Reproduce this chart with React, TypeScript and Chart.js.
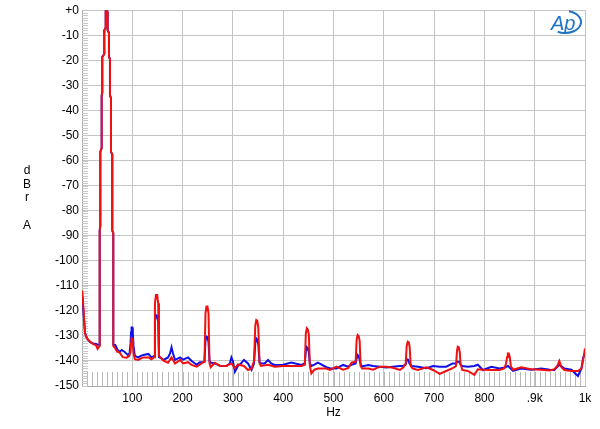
import React, { useEffect, useRef } from 'react';
import { Chart, registerables } from 'chart.js';

Chart.register(...registerables);

const FONT = '"Liberation Sans", Arial, sans-serif';

// Fundamental (50 Hz) peak shape, shared by both traces: [Hz, dBr A]
const fundamental: [number, number][] = [
  [35.2, -88], [36.4, -86], [36.4, -56.6], [39.1, -55], [39.1, -34], [40.3, -33], [40.3, -18.6],
  [44.3, -17.5], [44.3, -8], [47.1, -7], [47.1, 0], [49.7, 0], [51, -0.8], [51, -8], [53.6, -9],
  [53.6, -18.6], [55.6, -19.5], [55.6, -34], [57.6, -35], [57.6, -56.6], [60.2, -57.5], [60.2, -88],
  [62.2, -89],
];

// Red trace: [Hz, dBr A]
const redLow: [number, number][] = [
  [0.5, -112], [2.6, -118], [6, -129], [10, -131], [16, -132.3], [22, -133.2], [28, -133.8],
  [31, -135.2], [33, -134.6], [35.2, -134],
];
const redHigh: [number, number][] = [
  [62.2, -134], [66, -135], [70, -136.3], [75, -136.7], [81, -138.5], [89, -138.7], [94, -138],
  [96.5, -136.5], [97.5, -133], [98.5, -131], [100, -131], [101, -133.5], [102.5, -137],
  [105, -139.3], [112, -139.6], [117, -139], [122, -138.6], [132, -138.6], [138, -139.3],
  [143.5, -138.5], [145, -117], [147, -113.7], [149.5, -113.7], [151.5, -117], [153, -138],
  [158, -139], [162, -139.9], [171, -140.7], [178, -138.6], [185, -141], [195, -139.6], [201, -141],
  [211, -140.5], [218, -141.6], [228, -142.3], [234, -141.5], [241, -140.5],
  [243.5, -140.3], [245.5, -121], [247.5, -118.3], [249.5, -118.3], [251.5, -121], [253.5, -141],
  [256, -142.5], [264, -140.7], [274, -141.9], [287, -142], [297, -141], [304, -142.9], [310, -141.4],
  [322, -142], [330, -143.6], [337, -143],
  [342, -140], [344.5, -126], [346.5, -123.7], [348.5, -124], [350.5, -126.5], [353, -141],
  [356, -142], [370, -141.5], [383, -142.3], [400, -142], [416, -142], [436, -142],
  [443, -141.5], [445, -129], [447, -127], [449, -127.5], [451, -129.5], [453, -142],
  [456, -145], [462, -143.5], [469, -143], [486, -143], [493, -143.6], [506, -142.3], [519, -143.5],
  [529, -142.9], [536, -140.7], [542, -140.3],
  [544, -140.3], [546, -131.5], [548, -129.6], [550, -130], [552, -132], [554, -142],
  [557, -143], [569, -143], [579, -143.5], [592, -142.3], [605, -142.3], [618, -142.7], [632, -143.6],
  [639, -142.5],
  [643.5, -141], [645.5, -134], [647.5, -132.3], [649.5, -132.5], [651.5, -134.5], [653.5, -142],
  [657, -143], [668, -143.6], [685, -142.5], [698, -143.6], [711, -145.2], [724, -144], [737, -142.9],
  [743.5, -142], [745.5, -136], [747, -134.3], [749, -134.5], [751, -136.5], [752.5, -141],
  [756, -143.6], [767, -144], [780, -145.6], [787, -143.3], [797, -143.5], [814, -143.6], [830, -143.6],
  [840, -142.9],
  [843, -141], [845, -138.5], [846.5, -137], [848.5, -137], [850.5, -138.5], [852.5, -142],
  [857, -143.5], [873, -142.5], [893, -143.3], [913, -143.5], [930, -143.8], [939, -143.3], [945, -142],
  [949, -140], [953, -142.5], [959, -143.6], [973, -144], [986, -144], [993, -143], [996, -140],
  [1000, -135],
];

// Blue trace: [Hz, dBr A]
const blueLow: [number, number][] = [
  [0.5, -114], [2.6, -120], [6, -129], [10, -131], [16, -132.5], [22, -133], [28, -133.2],
  [31, -133.5], [33, -133.5], [35.2, -133.5],
];
const blueHigh: [number, number][] = [
  [62.2, -133.5], [66, -133.6], [71, -135.6], [75, -136.3], [79, -135.6], [85, -136.4], [91, -137.6],
  [94.5, -137],
  [96.5, -133], [97.5, -128.5], [98.5, -126.6], [100, -126.6], [101, -129], [102.5, -134],
  [105, -138], [112, -138.6], [117, -138], [122, -137.6], [132, -137.2], [138, -138.6],
  [143.5, -138], [145, -124], [147, -121.7], [149.5, -122], [151.5, -124.5], [153, -138.5],
  [158, -139], [162, -139.6], [171, -138.6], [175, -137], [178, -134.5], [181, -137],
  [185, -139.6], [195, -138.6], [201, -139.5], [211, -138.6], [218, -140], [228, -141.5], [234, -140.5],
  [241, -140.5],
  [243.5, -140.3], [245.5, -132], [247.5, -130.3], [249.5, -130.5], [251.5, -132.5], [253.5, -140],
  [256, -140.7], [264, -141], [274, -141.9], [287, -142], [294, -141], [297, -138.6], [300, -140],
  [304, -144.3], [310, -142], [316, -141], [322, -139.6], [330, -141], [337, -143.6],
  [342, -141], [344.5, -133], [346.5, -131], [348.5, -131.5], [350.5, -133.5], [353, -140.5],
  [356, -141], [363, -141], [370, -139.6], [376, -141], [383, -141.6], [400, -141.5], [416, -140.6],
  [436, -141.6],
  [443, -141], [445, -136], [447, -134.5], [449, -135], [451, -136.5], [453, -141],
  [456, -142], [462, -141.5], [469, -140.7], [486, -142.5], [493, -142.9], [506, -143], [519, -141.6],
  [529, -142.3], [536, -141.5],
  [544, -141], [546, -139], [548, -137.6], [550, -138], [552, -139.5], [554, -141.5],
  [557, -142.2], [569, -141.6], [579, -142], [592, -142.3], [605, -142.6], [618, -142.3], [632, -142],
  [639, -142],
  [643.5, -141.5], [646, -139.3], [648.5, -139.5], [651, -141], [655, -142], [668, -142.3],
  [685, -142.9], [698, -142], [711, -142.3], [724, -142.3], [737, -141],
  [743.5, -141], [746, -140.3], [750, -140.3], [752.5, -141.5],
  [756, -142], [767, -142.3], [780, -142], [787, -141.5], [797, -143.6],
  [814, -142.3], [830, -143], [840, -142.6], [847, -142], [857, -144], [873, -143], [893, -143.5],
  [913, -143], [930, -143.5], [939, -143.6], [949, -141.5], [959, -143], [973, -143.5], [986, -146],
  [993, -143], [996, -139], [1000, -137],
];

const yTitleLetters = ['d', 'B', 'r', '', 'A'];
const xTitle = 'Hz';

const toPoints = (...parts: [number, number][][]) =>
  parts.flat().map(([x, y]) => ({ x, y }));

const decorPlugin = {
  id: 'decor',
  beforeDatasetsDraw(chart: any) {
    const { ctx, chartArea, scales } = chart;
    const xs = scales.x;
    const ys = scales.y;
    ctx.save();
    ctx.lineWidth = 1;
    ctx.strokeStyle = '#c8c8c8';
    ctx.beginPath();
    for (let v = -150; v <= 0; v += 1) {
      const y = Math.round(ys.getPixelForValue(v)) + 0.5;
      ctx.moveTo(chartArea.left, y);
      ctx.lineTo(chartArea.left + 6, y);
    }
    ctx.stroke();
    ctx.strokeStyle = '#b8b8b8';
    ctx.beginPath();
    for (let v = 10; v < 1000; v += 10) {
      const x = Math.round(xs.getPixelForValue(v)) + 0.5;
      ctx.moveTo(x, chartArea.bottom);
      ctx.lineTo(x, chartArea.bottom - 14);
    }
    ctx.stroke();
    ctx.restore();
  },
  afterDraw(chart: any) {
    const { ctx, chartArea } = chart;
    ctx.save();
    ctx.fillStyle = '#000';
    ctx.font = `12px ${FONT}`;
    ctx.textAlign = 'center';
    ctx.textBaseline = 'middle';
    const ys = [171, 184.5, 198, 211.5, 225.5];
    yTitleLetters.forEach((t, i) => ctx.fillText(t, 27, ys[i]));
    ctx.fillText(xTitle, (chartArea.left + chartArea.right) / 2, 413);
    ctx.fillStyle = '#1f74c6';
    ctx.strokeStyle = '#1f74c6';
    ctx.font = `italic 20px ${FONT}`;
    ctx.textAlign = 'left';
    ctx.textBaseline = 'alphabetic';
    ctx.fillText('Ap', 551, 30);
    ctx.lineWidth = 2;
    ctx.beginPath();
    ctx.ellipse(565, 22, 16, 11, 0, -Math.PI * 0.42, Math.PI * 0.65);
    ctx.stroke();
    ctx.restore();
  },
};

export default function App() {
  const ref = useRef<HTMLCanvasElement>(null);
  useEffect(() => {
    if (!ref.current) return;
    const chart = new Chart(ref.current, {
      type: 'line',
      data: {
        datasets: [
          {
            data: toPoints(redLow, fundamental, redHigh),
            borderColor: '#f01010',
            borderWidth: 2,
            pointRadius: 0,
            tension: 0,
          },
          {
            data: toPoints(blueLow, fundamental, blueHigh),
            borderColor: '#1010e8',
            borderWidth: 2,
            pointRadius: 0,
            tension: 0,
          },
        ],
      },
      options: {
        animation: false,
        responsive: false,
        devicePixelRatio: 1,
        layout: { padding: { top: 10, right: 15, left: 0, bottom: 0 } },
        plugins: { legend: { display: false }, tooltip: { enabled: false } },
        scales: {
          x: {
            type: 'linear',
            min: 0,
            max: 1000,
            afterFit: (s: any) => { s.height = 43; },
            grid: { color: '#c4c4c4', drawTicks: false },
            border: { color: '#a8a8a8' },
            ticks: {
              stepSize: 100,
              padding: 5,
              color: '#000',
              font: { family: FONT, size: 12 },
              maxRotation: 0,
              callback: (v: any) => (v === 0 ? '' : v === 900 ? '.9k' : v === 1000 ? '1k' : String(v)),
            },
          },
          y: {
            type: 'linear',
            min: -150,
            max: 0,
            afterFit: (s: any) => { s.width = 82; },
            grid: { color: '#c4c4c4', drawTicks: false },
            border: { color: '#a8a8a8' },
            ticks: {
              stepSize: 10,
              padding: 3,
              color: '#000',
              font: { family: FONT, size: 12 },
              callback: (v: any) => (v === 0 ? '+0' : String(v)),
            },
          },
        },
      },
      plugins: [decorPlugin],
    } as any);
    return () => chart.destroy();
  }, []);
  return (
    <div style={{ position: 'fixed', left: 0, top: 0, width: 600, height: 429, background: '#fff' }}>
      <canvas ref={ref} width={600} height={429} />
    </div>
  );
}
